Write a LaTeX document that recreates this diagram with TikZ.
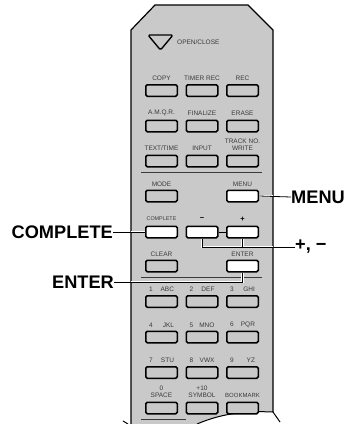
\documentclass[tikz,border=0pt]{standalone}
\usepackage{fontspec}
\setmainfont{Liberation Sans}
\usetikzlibrary{positioning, calc}
\definecolor{bodygray}{HTML}{C9C9C9}
\definecolor{capgray}{HTML}{3A3A3A}

\begin{document}
\begin{tikzpicture}[
  x=1pt, y=-1pt,
  keybox/.style={rectangle, draw=black, line width=1.5pt, fill=bodygray, rounded corners=1.5pt, minimum width=31.5pt, minimum height=11.5pt, inner sep=0pt},
  litbox/.style={keybox, fill=white},
  keycap/.style={font=\fontsize{6.5}{7.4}\selectfont, text=capgray, inner sep=0pt, align=center},
  numcap/.style={keycap, text width=25pt, align=left},
  signcap/.style={keycap, text=black, font=\fontsize{7.5}{8}\selectfont\bfseries},
  callout/.style={font=\fontsize{18.2}{19}\selectfont\bfseries, inner sep=0pt},
  leader/.style={draw=black, line width=0.8pt},
  halo/.style={draw=white, line width=2.4pt},
  rule/.style={draw=capgray, line width=0.9pt},
]
  \useasboundingbox (0,0) rectangle (348,424);

  % Remote body
  \fill[bodygray] (131,424) -- (131,30) -- (155,5) -- (248,5) -- (273,30) -- (273,412)
    .. controls (250,411) and (225,412) .. (197,424) -- cycle;
  \draw[line width=1.2pt] (131,424) -- (131,30) -- (155,5) -- (248,5) -- (273,30) -- (273,412);
  \draw[line width=1pt] (197,424) .. controls (225,412) and (250,411) .. (273,412) -- (280,422);
  \draw[line width=1pt] (123,421) -- (128,424);

  % Open/close
  \draw[fill=bodygray, line width=1.4pt, line join=round, rounded corners=1.5pt] (148,35) -- (173,35) -- (160.5,50) -- cycle;
  \node[keycap, anchor=west] (openclose) at (177,42) {OPEN/CLOSE};

  % First block
  \node[keybox] (copy) at (161.5,90.5) {};
  \node[keybox] (timerrec) at (202,90.5) {};
  \node[keybox] (rec) at (242.5,90.5) {};
  \node[keycap] at (161.5,78) {COPY};
  \node[keycap] at (202,78) {TIMER REC};
  \node[keycap] at (242.5,78) {REC};

  \node[keybox] (amqr) at (161.5,126) {};
  \node[keybox] (finalize) at (202,126) {};
  \node[keybox] (erase) at (242.5,126) {};
  \node[keycap] at (161.5,113) {A.M.Q.R.};
  \node[keycap] at (202,113) {FINALIZE};
  \node[keycap] at (242.5,113) {ERASE};

  \node[keybox] (texttime) at (161.5,161) {};
  \node[keybox] (input) at (202,161) {};
  \node[keybox] (trackno) at (242.5,161) {};
  \node[keycap] at (161.5,148.5) {TEXT/TIME};
  \node[keycap] at (202,148.5) {INPUT};
  \node[keycap] at (242.5,144.5) {TRACK NO.\\WRITE};

  \draw[rule] (141,172.5) -- (262,172.5);

  % Second block
  \node[keybox] (mode) at (161.5,196) {};
  \node[litbox] (menu) at (242.5,196) {};
  \node[keycap] at (161.5,184) {MODE};
  \node[keycap] at (242.5,184) {MENU};

  \node[litbox] (complete) at (161.5,232) {};
  \node[litbox] (minus) at (202,232) {};
  \node[litbox] (plus) at (242.5,232) {};
  \node[keycap, font=\fontsize{5.4}{7}\selectfont] at (161.5,219) {COMPLETE};
  \node[signcap] at (202,219.5) {\textminus};
  \node[signcap] at (242.5,219.5) {+};

  \node[keybox] (clear) at (161.5,266) {};
  \node[litbox] (enter) at (242.5,266) {};
  \node[keycap] at (161.5,254) {CLEAR};
  \node[keycap] at (242.5,254) {ENTER};

  \draw[rule] (141,277.5) -- (262,277.5);

  % Number block
  \node[keybox] (one) at (161.5,301.5) {};
  \node[keybox] (two) at (202,301.5) {};
  \node[keybox] (three) at (242.5,301.5) {};
  \node[numcap] at (161.5,289) {1\hfill ABC};
  \node[numcap] at (202,289) {2\hfill DEF};
  \node[numcap] at (242.5,289) {3\hfill GHI};

  \node[keybox] (four) at (161.5,337) {};
  \node[keybox] (five) at (202,337) {};
  \node[keybox] (six) at (242.5,337) {};
  \node[numcap] at (161.5,325) {4\hfill JKL};
  \node[numcap] at (202,325) {5\hfill MNO};
  \node[numcap] at (242.5,325) {6\hfill PQR};

  \node[keybox] (seven) at (161.5,372.5) {};
  \node[keybox] (eight) at (202,372.5) {};
  \node[keybox] (nine) at (242.5,372.5) {};
  \node[numcap] at (161.5,360) {7\hfill STU};
  \node[numcap] at (202,360) {8\hfill VWX};
  \node[numcap] at (242.5,360) {9\hfill YZ};

  \node[keybox] (zero) at (161.5,408) {};
  \node[keybox] (ten) at (202,408) {};
  \node[keybox] (bookmark) at (242.5,408) {};
  \node[keycap] at (161.5,391.5) {0\\SPACE};
  \node[keycap] at (202,391.5) {+10\\SYMBOL};
  \node[keycap, font=\fontsize{6}{7}\selectfont] at (242.5,395) {BOOKMARK};
  \draw[rule] (141,419.5) -- (186,419.5);

  % Callouts
  \node[callout, anchor=west] (menulabel) at (291,197) {MENU};
  \node[callout, anchor=east] (completelabel) at (113,232) {COMPLETE};
  \node[callout, anchor=west] (pmlabel) at (295,247) {+, \textminus};
  \node[callout, anchor=east] (enterlabel) at (114,282) {ENTER};

  % Leaders
  \draw[halo] (menu.east) -- (273,196);
  \draw[leader] (menu.east) -- (menulabel.west);
  \draw[halo] (complete.west) -- (131,232);
  \draw[leader] (completelabel.east) -- (complete.west);
  \draw[leader] (minus) -- (plus);
  \draw[halo] (minus.south) |- (273,247);
  \draw[halo] (plus.south) -- (plus.south |- 0,247);
  \draw[leader] (minus.south) |- (pmlabel.west);
  \draw[leader] (plus.south) -- (plus.south |- 0,247);
  \draw[halo] (enter.south) |- (131,282);
  \draw[leader] (enter.south) |- (enterlabel.east);
\end{tikzpicture}
\end{document}
